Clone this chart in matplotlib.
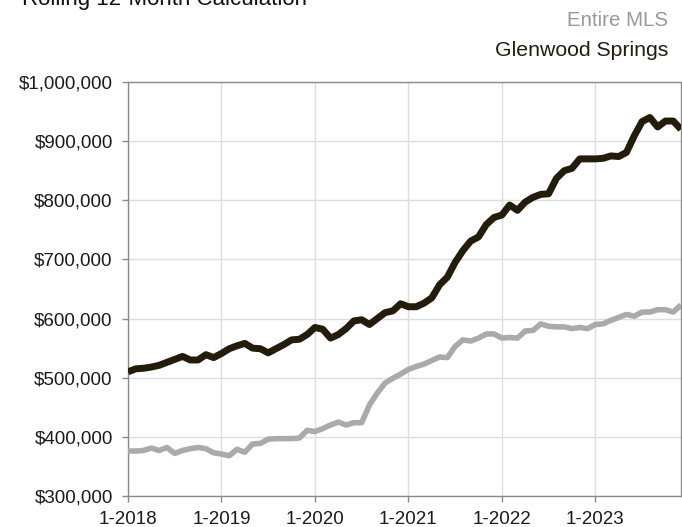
import matplotlib
matplotlib.use("Agg")
import matplotlib.pyplot as plt
from matplotlib.ticker import FuncFormatter, FixedLocator

plt.rcParams["font.family"] = ["Liberation Sans", "DejaVu Sans"]

# Monthly rolling 12-month median price, Jan 2018 - Dec 2023
months = list(range(72))
glenwood = [
    510000, 515000, 516000, 518000, 521000, 526000, 531000, 536000, 530000, 530000, 539000, 534000,
    541000, 549000, 554000, 558000, 550000, 549000, 542000, 549000, 556000, 564000, 565000, 573000,
    585000, 582000, 567000, 573000, 583000, 596000, 598000, 590000, 600000, 610000, 613000, 625000,
    620000, 620000, 626000, 635000, 657000, 670000, 695000, 715000, 731000, 738000, 759000, 771000,
    775000, 792000, 783000, 797000, 805000, 810000, 811000, 837000, 850000, 854000, 870000, 870000,
    870000, 871000, 875000, 874000, 881000, 909000, 933000, 940000, 924000, 934000, 934000, 920000,
]
entire_mls = [
    376000, 376000, 377000, 381000, 377000, 382000, 372000, 377000, 380000, 382000, 380000, 373000,
    371000, 368000, 379000, 374000, 388000, 389000, 396000, 397000, 397000, 397000, 398000, 411000,
    409000, 414000, 420000, 425000, 420000, 424000, 424000, 454000, 474000, 491000, 499000, 506000,
    514000, 519000, 523000, 529000, 535000, 534000, 553000, 564000, 562000, 567000, 574000, 574000,
    567000, 568000, 567000, 579000, 580000, 591000, 587000, 586000, 586000, 583000, 585000, 583000,
    590000, 591000, 597000, 602000, 607000, 604000, 611000, 611000, 615000, 615000, 611000, 623000,
]
year_ticks = [0, 12, 24, 36, 48, 60]
year_labels = ["1-2018", "1-2019", "1-2020", "1-2021", "1-2022", "1-2023"]
y_ticks = [300000, 400000, 500000, 600000, 700000, 800000, 900000, 1000000]

dark = "#231c0c"
gray = "#aaaaaa"

fig = plt.figure(figsize=(6.82, 5.27), dpi=100)
ax = fig.add_axes([128 / 682, 1 - 496 / 527, 553 / 682, 414 / 527])

ax.plot(months, entire_mls, color=gray, lw=4.0, solid_joinstyle="round", solid_capstyle="butt", zorder=3)
ax.plot(months, glenwood, color=dark, lw=5.0, solid_joinstyle="round", solid_capstyle="butt", zorder=4)

ax.set_xlim(0, 71)
ax.set_ylim(300000, 1000000)
ax.xaxis.set_major_locator(FixedLocator(year_ticks))
ax.set_xticklabels(year_labels)
ax.yaxis.set_major_locator(FixedLocator(y_ticks))
ax.yaxis.set_major_formatter(FuncFormatter(lambda v, p: f"${v:,.0f}"))

ax.grid(True, color="#dddddd", lw=1.0, zorder=0)
ax.set_axisbelow(True)
for side in ["left", "bottom", "right", "top"]:
    ax.spines[side].set_color("#8a8a8a")
    ax.spines[side].set_linewidth(1.0)
ax.tick_params(axis="both", colors="#8a8a8a", length=4, width=1.0, labelcolor="#1a1a1a",
               labelsize=13.5)
ax.tick_params(axis="y", pad=7)
ax.tick_params(axis="x", pad=7)

fig.text(22 / 682, 1 - 5 / 527, "Rolling 12-Month Calculation", fontsize=16, color="#111111",
         ha="left", va="baseline")
fig.text(668 / 682, 1 - 26 / 527, "Entire MLS", fontsize=14.8, color="#999999", ha="right", va="baseline")
fig.text(668 / 682, 1 - 56 / 527, "Glenwood Springs", fontsize=15.3, color="#231c0c", ha="right", va="baseline")

fig.savefig("out.png", dpi=100)
